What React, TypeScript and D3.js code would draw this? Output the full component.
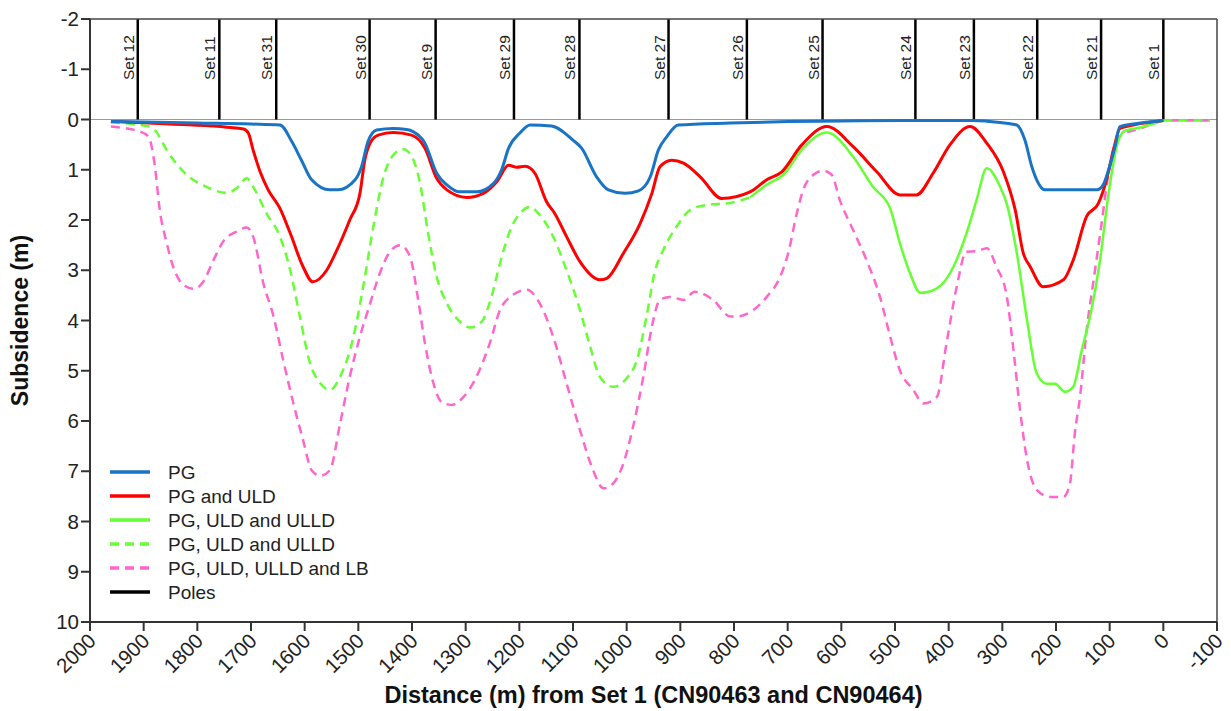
import { scaleLinear, line, curveMonotoneX, range } from "d3";

const W = 1231;
const H = 711;
const left = 90;
const right = 1217;
const top = 19;
const bottom = 622;

const FONT = "'Liberation Sans', Arial, sans-serif";

// [distance (m) from Set 1, subsidence (m)]
const pg = [
  [1961, 0.04], [1900, 0.05], [1800, 0.07], [1700, 0.09], [1646, 0.11], [1624, 0.44], [1606, 0.81],
  [1587, 1.2], [1553, 1.4], [1538, 1.4], [1506, 1.2], [1494, 0.94], [1482, 0.44], [1466, 0.21],
  [1435, 0.18], [1410, 0.2], [1398, 0.24], [1376, 0.47], [1354, 1.07], [1335, 1.3], [1311, 1.44],
  [1280, 1.44], [1248, 1.27], [1233, 1.0], [1220, 0.57], [1199, 0.27], [1180, 0.11], [1140, 0.13],
  [1100, 0.41], [1084, 0.57], [1056, 1.14], [1034, 1.4], [1003, 1.47], [978, 1.42], [956, 1.14],
  [941, 0.61], [925, 0.34], [904, 0.11], [807, 0.07], [700, 0.04], [600, 0.03], [491, 0.02],
  [355, 0.02], [304, 0.06], [273, 0.11], [258, 0.41], [245, 0.94], [236, 1.2], [221, 1.4],
  [124, 1.4], [112, 1.3], [102, 1.0], [90, 0.54], [81, 0.14], [56, 0.09], [0, 0.02],
];

const pgUld = [
  [1961, 0.04], [1850, 0.09], [1714, 0.19], [1705, 0.27], [1696, 0.61], [1683, 1.04], [1668, 1.4],
  [1646, 1.77], [1627, 2.26], [1603, 2.93], [1585, 3.23], [1559, 3.0], [1540, 2.6], [1516, 2.0],
  [1497, 1.47], [1488, 0.81], [1478, 0.47], [1463, 0.31], [1435, 0.26], [1401, 0.31], [1376, 0.57],
  [1354, 1.17], [1335, 1.4], [1298, 1.55], [1267, 1.47], [1242, 1.24], [1220, 0.91], [1205, 0.95],
  [1189, 0.93], [1171, 1.07], [1149, 1.64], [1134, 1.87], [1112, 2.33], [1087, 2.83], [1050, 3.19],
  [1037, 3.16], [1006, 2.66], [975, 2.07], [953, 1.47], [938, 0.94], [916, 0.81], [894, 0.87],
  [863, 1.14], [823, 1.57], [770, 1.44], [739, 1.2], [711, 1.04], [674, 0.51], [627, 0.14],
  [578, 0.54], [534, 1.04], [491, 1.5], [460, 1.5], [429, 1.07], [398, 0.51], [360, 0.14],
  [329, 0.47], [298, 1.04], [276, 1.8], [261, 2.66], [248, 2.93], [224, 3.33], [186, 3.19],
  [168, 2.8], [143, 1.93], [121, 1.67], [106, 1.2], [93, 0.61], [81, 0.18], [56, 0.11], [0, 0.02],
];

const ulldSolid = [
  [770, 1.55], [739, 1.3], [708, 1.1], [671, 0.57], [627, 0.26], [578, 0.74], [541, 1.34],
  [509, 1.77], [491, 2.46], [472, 3.06], [453, 3.45], [422, 3.36], [391, 2.93], [361, 2.07],
  [348, 1.6], [329, 0.97], [304, 1.34], [292, 1.67], [273, 2.66], [255, 3.92], [236, 5.05],
  [217, 5.26], [202, 5.26], [183, 5.42], [168, 5.32], [152, 4.59], [134, 3.79], [118, 2.8],
  [102, 1.47], [87, 0.54], [74, 0.24], [43, 0.16], [0, 0.02],
];

// null marks the break where the solid green takes over
const ulldDashed = [
  [1961, 0.06], [1894, 0.13], [1879, 0.21], [1857, 0.61], [1820, 1.1], [1783, 1.34], [1745, 1.46],
  [1727, 1.37], [1708, 1.17], [1696, 1.34], [1671, 1.87], [1646, 2.33], [1627, 3.0], [1609, 3.92],
  [1590, 4.85], [1571, 5.25], [1553, 5.38], [1534, 5.12], [1509, 4.32], [1491, 3.33], [1472, 2.13],
  [1453, 1.14], [1435, 0.71], [1416, 0.59], [1398, 0.79], [1385, 1.27], [1370, 2.26], [1354, 3.13],
  [1335, 3.66], [1311, 4.02], [1292, 4.14], [1270, 4.02], [1252, 3.53], [1236, 2.86], [1217, 2.2],
  [1199, 1.87], [1180, 1.74], [1162, 1.9], [1137, 2.33], [1112, 3.0], [1087, 3.79], [1068, 4.52],
  [1050, 5.12], [1025, 5.32], [1000, 5.15], [981, 4.79], [963, 3.92], [947, 3.0], [932, 2.6],
  [907, 2.13], [882, 1.8], [851, 1.7], [807, 1.66], [770, 1.55], [400, null], [0, 0.02], [-87, 0.02],
];

const lbDashed = [
  [1961, 0.14], [1907, 0.24], [1891, 0.34], [1879, 0.94], [1870, 1.8], [1857, 2.46], [1845, 2.93],
  [1826, 3.29], [1807, 3.37], [1789, 3.23], [1770, 2.8], [1752, 2.43], [1727, 2.23], [1708, 2.15],
  [1696, 2.33], [1677, 3.26], [1658, 3.92], [1640, 4.79], [1621, 5.65], [1603, 6.38], [1587, 6.98],
  [1571, 7.09], [1553, 6.98], [1534, 6.05], [1516, 5.12], [1497, 4.32], [1478, 3.66], [1460, 3.06],
  [1441, 2.63], [1422, 2.5], [1404, 2.72], [1388, 3.62], [1376, 4.45], [1360, 5.25], [1345, 5.62],
  [1326, 5.68], [1304, 5.52], [1280, 5.12], [1255, 4.45], [1236, 3.79], [1217, 3.53], [1186, 3.39],
  [1162, 3.66], [1137, 4.32], [1112, 5.25], [1087, 6.18], [1065, 6.91], [1043, 7.34], [1025, 7.24],
  [1006, 6.84], [988, 6.11], [969, 5.12], [953, 4.12], [938, 3.59], [919, 3.53], [894, 3.59],
  [873, 3.43], [839, 3.59], [807, 3.92], [795, 3.92], [764, 3.79], [739, 3.53], [714, 3.13],
  [699, 2.66], [683, 1.87], [671, 1.4], [652, 1.1], [634, 1.02], [618, 1.1], [603, 1.6],
  [578, 2.2], [553, 2.8], [528, 3.53], [509, 4.32], [491, 4.99], [466, 5.38], [447, 5.65],
  [422, 5.52], [404, 4.45], [385, 3.33], [367, 2.63], [348, 2.62], [329, 2.56], [311, 2.93],
  [292, 3.5], [280, 4.52], [267, 5.78], [255, 6.71], [236, 7.37], [211, 7.51], [186, 7.51],
  [174, 7.24], [165, 6.25], [155, 5.5], [143, 4.2], [130, 3.2], [118, 2.3], [102, 1.07],
  [90, 0.47], [78, 0.31], [43, 0.18], [0, 0.02], [-87, 0.02],
];

const poleNames = ["Set 12", "Set 11", "Set 31", "Set 30", "Set 9", "Set 29", "Set 28", "Set 27", "Set 26", "Set 25", "Set 24", "Set 23", "Set 22", "Set 21", "Set 1"];
const poleDistances = [1911, 1759, 1653, 1479, 1356, 1210, 1088, 922, 776, 635, 462, 353, 235, 116, 0];

const xTicks = range(2000, -101, -100);
const yTicks = range(-2, 11, 1);

const legendLabels = ["PG", "PG and ULD", "PG, ULD and ULLD", "PG, ULD and ULLD", "PG, ULD, ULLD and LB", "Poles"];
const legendColors = ["#1a74c6", "#ff0000", "#66ff33", "#66ff33", "#ff66cc", "#000000"];
const legendDashes = [null, null, null, "9,6", "9,6", null];

const App = () => {
  const xScale = scaleLinear().domain([2000, -100]).range([left, right]);
  const yScale = scaleLinear().domain([-2, 10]).range([top, bottom]);

  const path = line()
    .defined((d) => d[1] !== null)
    .x((d) => xScale(d[0]))
    .y((d) => yScale(d[1]))
    .curve(curveMonotoneX);

  const series = [
    { data: lbDashed, color: legendColors[4], dash: "9,6", width: 2.5 },
    { data: ulldDashed, color: legendColors[3], dash: "9,6", width: 2.5 },
    { data: ulldSolid, color: legendColors[2], dash: null, width: 2.5 },
    { data: pgUld, color: legendColors[1], dash: null, width: 3 },
    { data: pg, color: legendColors[0], dash: null, width: 3 },
  ];

  return (
    <svg width={W} height={H} style={{ position: "absolute", left: 0, top: 0 }} fontFamily={FONT}>
      <rect width={W} height={H} fill="white" />

      {/* zero line */}
      <line x1={left} x2={right} y1={yScale(0)} y2={yScale(0)} stroke="#999" strokeWidth={1.2} />

      {/* poles */}
      {poleDistances.map((d, i) => (
        <g key={poleNames[i]}>
          <line x1={xScale(d)} x2={xScale(d)} y1={yScale(-2)} y2={yScale(0)} stroke="#000" strokeWidth={2.5} />
          <text
            transform={`translate(${xScale(d) - 4},80) rotate(-90)`}
            fontSize={15.5}
            fill="#222"
          >
            {poleNames[i]}
          </text>
        </g>
      ))}

      {series.map((s, i) => (
        <path
          key={i}
          d={path(s.data)}
          fill="none"
          stroke={s.color}
          strokeWidth={s.width}
          strokeDasharray={s.dash || undefined}
          strokeLinejoin="round"
        />
      ))}

      {/* frame */}
      <line x1={left} x2={right} y1={top} y2={top} stroke="#444" strokeWidth={1.5} />
      <line x1={right} x2={right} y1={top} y2={bottom} stroke="#444" strokeWidth={1.5} />
      <line x1={left} x2={left} y1={top} y2={bottom} stroke="#333" strokeWidth={2} />
      <line x1={left} x2={right} y1={bottom} y2={bottom} stroke="#333" strokeWidth={2} />

      {/* y axis */}
      {yTicks.map((t) => (
        <g key={t} transform={`translate(0,${yScale(t)})`}>
          <line x1={left - 9} x2={left} stroke="#333" strokeWidth={2} />
          <text x={left - 11} dy="0.35em" textAnchor="end" fontSize={20.5} fill="#222">
            {t}
          </text>
        </g>
      ))}

      {/* x axis */}
      {xTicks.map((t) => (
        <g key={t} transform={`translate(${xScale(t)},0)`}>
          <line y1={bottom} y2={bottom + 9} stroke="#333" strokeWidth={2} />
          <text
            transform={`translate(2,${bottom + 15}) rotate(-45)`}
            textAnchor="end"
            dy="0.35em"
            fontSize={20.5}
            fill="#222"
          >
            {t}
          </text>
        </g>
      ))}

      <text x={(left + right) / 2} y={703} textAnchor="middle" fontSize={23.5} fontWeight="bold" fill="#111">
        Distance (m) from Set 1 (CN90463 and CN90464)
      </text>
      <text
        transform={`translate(28,${(top + bottom) / 2}) rotate(-90)`}
        textAnchor="middle"
        fontSize={23}
        fontWeight="bold"
        fill="#111"
      >
        Subsidence (m)
      </text>

      {/* legend */}
      {legendLabels.map((label, i) => (
        <g key={i} transform={`translate(110,${472 + i * 24})`}>
          <line
            x1={0}
            x2={40}
            stroke={legendColors[i]}
            strokeWidth={3.5}
            strokeDasharray={legendDashes[i] || undefined}
          />
          <text x={58} dy="0.35em" fontSize={19} fill="#222">
            {label}
          </text>
        </g>
      ))}
    </svg>
  );
};

export default App;
